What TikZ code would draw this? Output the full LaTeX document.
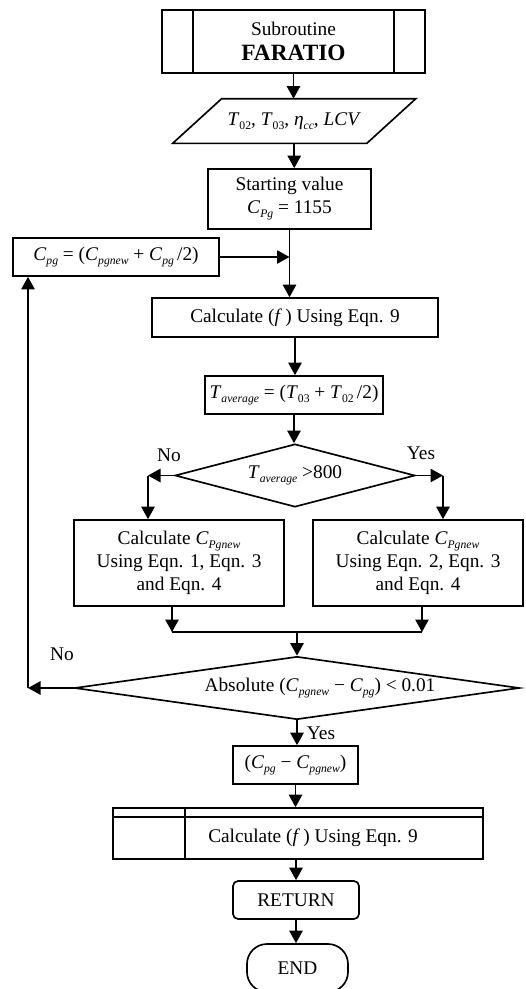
\documentclass[tikz,border=0pt]{standalone}
\usepackage{fontspec}
\setmainfont{Liberation Serif}
\usetikzlibrary{shapes.geometric,arrows.meta,calc}
\newcommand{\lowsub}[1]{\raisebox{-2.4pt}{\fontsize{7}{8}\selectfont #1}}
\newcommand{\sv}[2]{\textit{#1}\lowsub{\textit{#2}}}
\newcommand{\sn}[2]{\textit{#1}\lowsub{#2}}

\begin{document}
\begin{tikzpicture}[x=0.6pt, y=-0.6pt,
  every node/.style={font=\fontsize{11.6}{13.8}\selectfont},
  box/.style={draw, line width=1pt, align=center, inner sep=1.5pt},
  decision/.style={diamond, draw, line width=1pt, inner sep=0pt, aspect=3.8},
  arr/.style={line width=1pt, -{Triangle[length=7.5pt,width=8pt]}},
  line/.style={line width=1pt}]
\useasboundingbox (0,0) rectangle (525,989);

\node[box, minimum width=157.8pt, minimum height=37.8pt] (sub) at (293.5,41.5) {Subroutine\\[1pt]{\fontsize{14}{16}\selectfont\bfseries FARATIO}};
\draw[line] ($(sub.north west)+(32,0)$) -- ($(sub.south west)+(32,0)$);
\draw[line] ($(sub.north east)+(-32,0)$) -- ($(sub.south east)+(-32,0)$);
\node[minimum width=116.1pt, minimum height=26.4pt, inner sep=0pt] (input) at (294.25,121) {\sn{T}{02}, \sn{T}{03}, \sv{η}{cc}, \textit{LCV}};
\draw[line] ($(input.north west)+(24.5,0)$) -- ($(input.north east)+(24.5,0)$) -- ($(input.south east)+(-24.5,0)$) -- ($(input.south west)+(-24.5,0)$) -- cycle;
\node[box, minimum width=97.8pt, minimum height=36pt] (start) at (289.5,199) {Starting value\\\sv{C}{Pg} = 1155};
\node[box, minimum width=123.6pt, minimum height=22.8pt] (cpg) at (116,257) {\sv{C}{pg} = (\sv{C}{pgnew} + \sv{C}{pg}\,/2)};
\node[box, minimum width=171.6pt, minimum height=23.4pt] (calcf) at (295,317.5) {Calculate (\textit{f}\,) Using Eqn. 9};
\node[box, minimum width=106.8pt, minimum height=22.8pt] (tavg) at (294,395) {\sv{T}{average} = (\sn{T}{03} + \sn{T}{02}\,/2)};
\node[decision, minimum width=144pt, minimum height=37.8pt] (dec1) at (295,475.5) {\sv{T}{average} >800};
\node (no1) at (169,455) {No};
\node (yes1) at (421,453) {Yes};
\node[box, minimum width=126pt, minimum height=51.6pt] (left) at (179,563) {Calculate \sv{C}{Pgnew}\\Using Eqn. 1, Eqn. 3\\and Eqn. 4};
\node[box, minimum width=126pt, minimum height=51.6pt] (right) at (418,563) {Calculate \sv{C}{Pgnew}\\Using Eqn. 2, Eqn. 3\\and Eqn. 4};
\node[decision, minimum width=267pt, minimum height=37.8pt] (dec2) at (297,688) {};
\node (dec2txt) at (320,688) {Absolute (\sv{C}{pgnew} − \sv{C}{pg}) < 0.01};
\node (no2) at (62,654) {No};
\node (yes2) at (321,733) {Yes};
\node[box, minimum width=75pt, minimum height=22.8pt] (diff) at (295.5,765) {(\sv{C}{pg} − \sv{C}{pgnew})};
\node[draw, line width=1pt, minimum width=222pt, minimum height=30.6pt] (calcfb) at (298,833.5) {};
\draw[line] ($(calcfb.north west)+(0,10)$) -- ($(calcfb.north east)+(0,10)$);
\draw[line] ($(calcfb.north west)+(73,0)$) -- ($(calcfb.south west)+(73,0)$);
\node (calcfbtxt) at (313,838) {Calculate (\textit{f}\,) Using Eqn. 9};
\node[box, rounded corners=3pt, minimum width=75.6pt, minimum height=22.8pt] (ret) at (296,900) {RETURN};
\node[box, rounded corners=12pt, minimum width=60.6pt, minimum height=28.8pt] (finish) at (297.5,968) {END};

\coordinate (nocorner) at (148,475.5);
\coordinate (yescorner) at (443,475.5);
\coordinate (mergel) at (172,632);
\coordinate (merger) at (422,632);
\coordinate (back) at (28,688);

\draw[arr] (sub.south) -- (sub.south |- input.north);
\draw[arr] (input.south) -- (input.south |- start.north);
\draw[arr] (start.south) -- (start.south |- calcf.north);
\draw[arr] (cpg.east) -- (cpg.east -| start.south);
\draw[arr] (calcf.south) -- (calcf.south |- tavg.north);
\draw[arr] (tavg.south) -- (tavg.south |- dec1.north);
\draw[arr] (dec1.west) -- (nocorner);
\draw[arr] (nocorner) -- (nocorner |- left.north);
\draw[arr] (dec1.east) -- (yescorner);
\draw[arr] (yescorner) -- (yescorner |- right.north);
\draw[arr] (left.south -| mergel) -- (mergel);
\draw[arr] (right.south -| merger) -- (merger);
\draw[line] (mergel) -- (merger);
\draw[arr] (mergel -| dec2.north) -- (dec2.north);
\draw[arr] (dec2.west) -- (back);
\draw[arr] (back) -- (back |- cpg.south);
\draw[arr] (dec2.south) -- (dec2.south |- diff.north);
\draw[arr] (diff.south) -- (diff.south |- calcfb.north);
\draw[arr] (calcfb.south -| ret.north) -- (ret.north);
\draw[arr] (ret.south) -- (ret.south |- finish.north);
\end{tikzpicture}
\end{document}
